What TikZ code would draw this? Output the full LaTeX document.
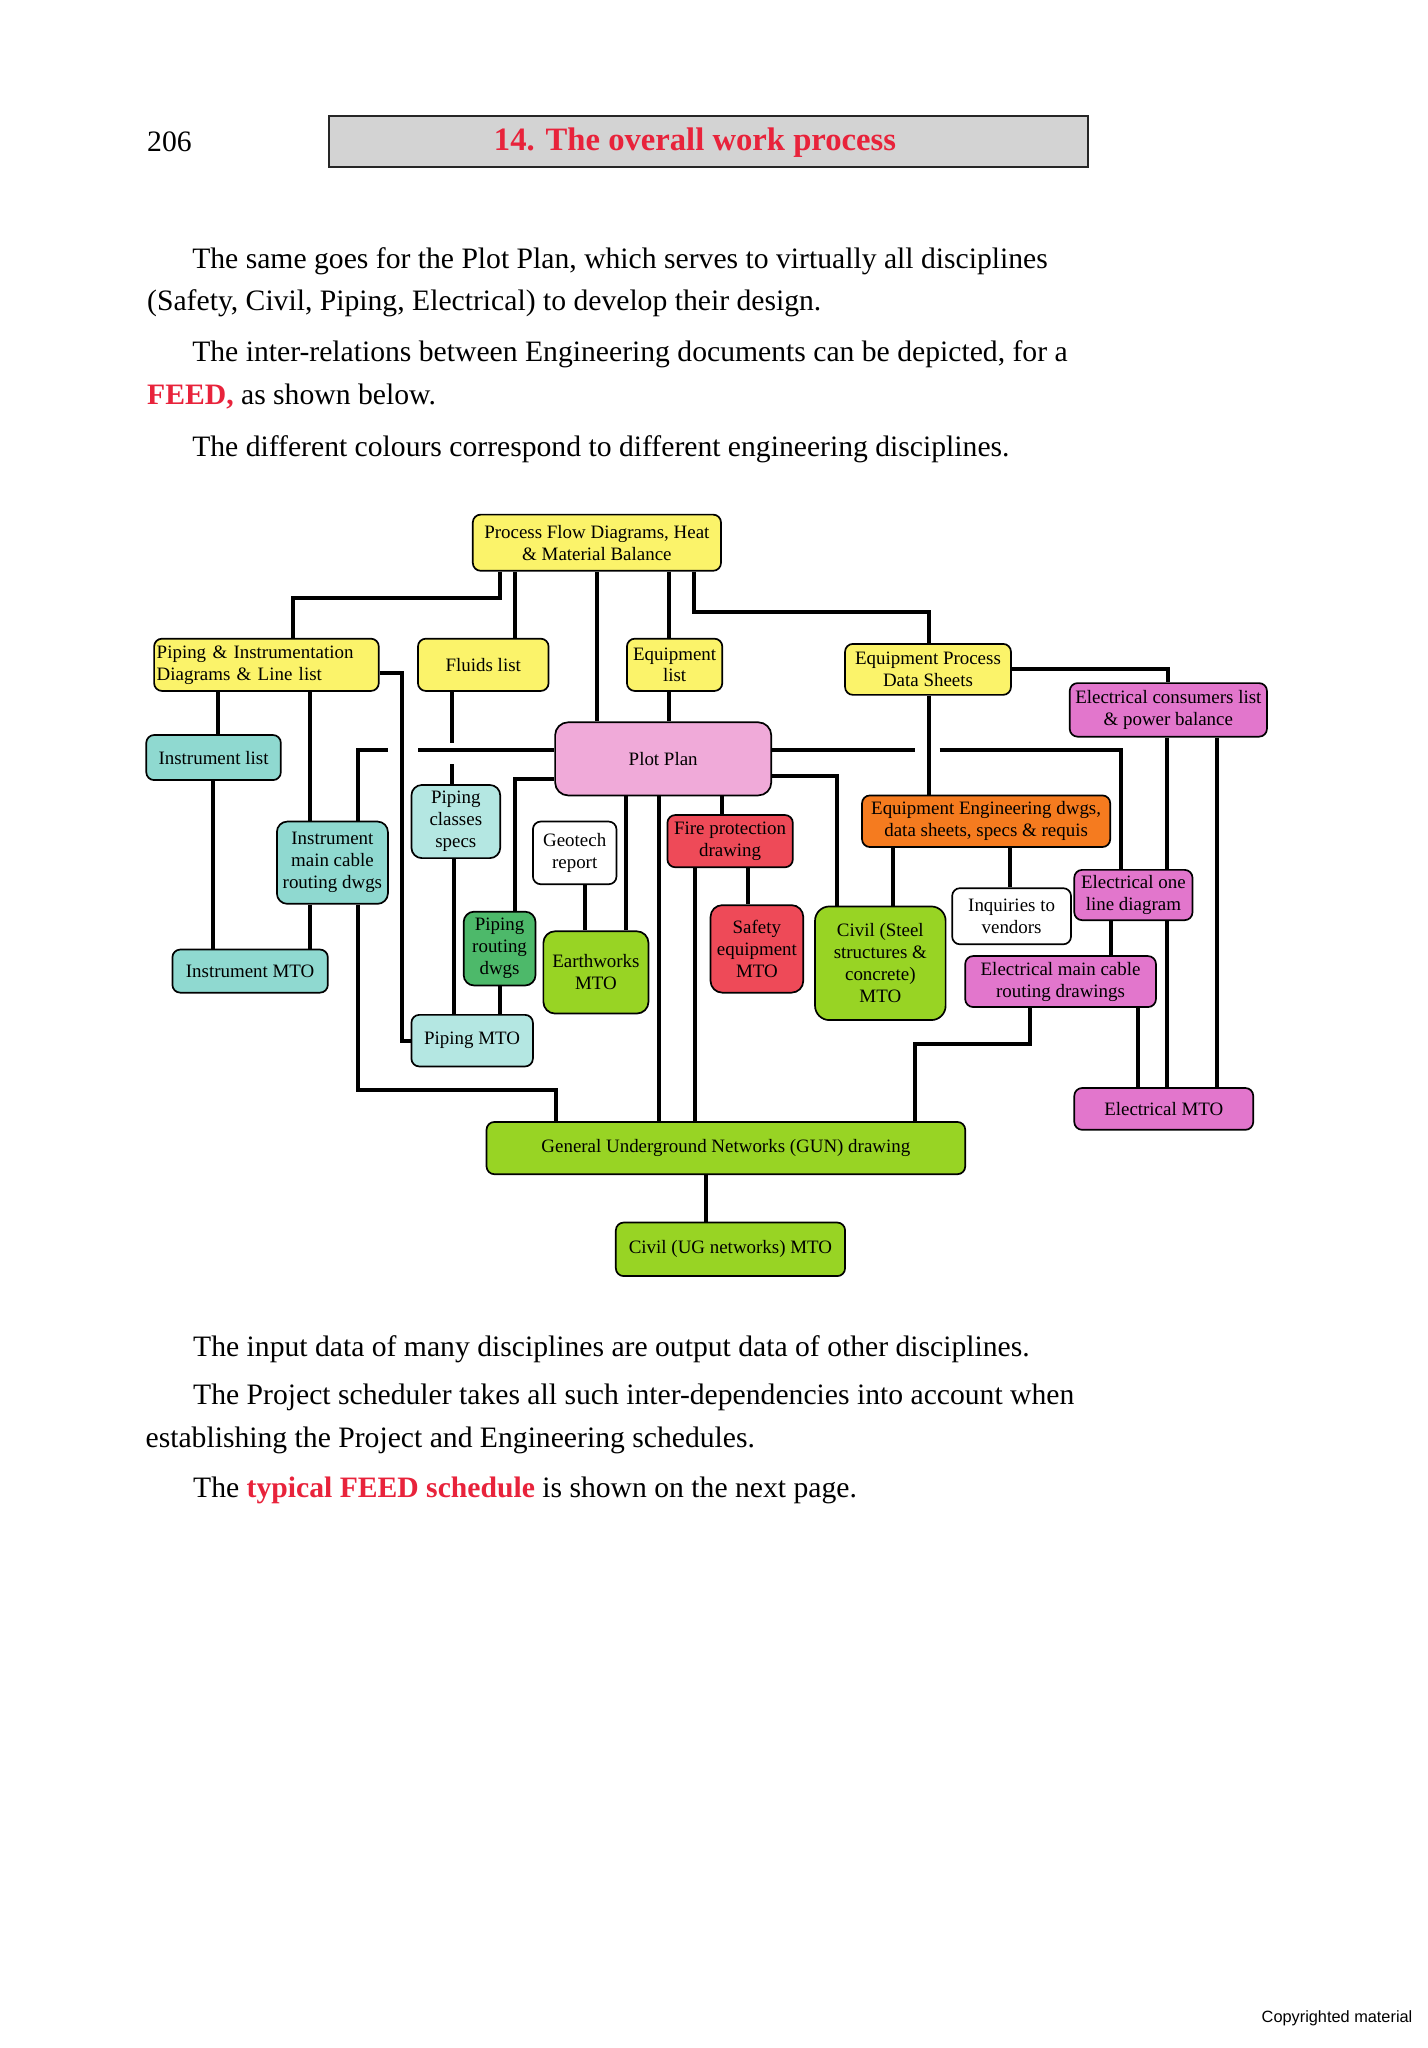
\documentclass[tikz,border=0pt]{standalone}
\usepackage{fontspec}
\setmainfont{Liberation Serif}
\newfontfamily\copyfont{Liberation Sans}
\usepackage{xcolor}
\usepackage{tikz}
\usetikzlibrary{calc}
\definecolor{pfdyellow}{HTML}{FBF36A}
\definecolor{instcyan}{HTML}{8FD9D0}
\definecolor{pipecyan}{HTML}{B4E7E2}
\definecolor{plotpink}{HTML}{F0AAD9}
\definecolor{firered}{HTML}{EE4A58}
\definecolor{eqorange}{HTML}{F57B1F}
\definecolor{civgreen}{HTML}{98D424}
\definecolor{pipegreen}{HTML}{4DB96A}
\definecolor{elecpink}{HTML}{E276CC}
\definecolor{headgray}{HTML}{D3D3D3}
\definecolor{feedred}{HTML}{E8233B}

\begin{document}
\begin{tikzpicture}[x=1pt,y=-1pt,
  box/.style={draw,fill=#1,rounded corners=6pt,line width=1.3pt,inner sep=1pt,align=center,font=\fontsize{14.5}{16.8}\selectfont},
  link/.style={line width=3pt},
  para/.style={anchor=base west,inner sep=0pt,font=\fontsize{22.7}{27}\selectfont}]
\useasboundingbox (0,0) rectangle (1092.6,1568);

% page head
\node[para] (page) at (112.5,116.2) {206};
\node[draw=black!85,fill=headgray,line width=1.2pt,minimum width=581pt,minimum height=39pt] (head) at (542.3,108.2) {};
\node[anchor=base west,inner sep=0pt,text=feedred,font=\fontsize{25}{30}\selectfont\bfseries] (title) at (378,115) {14. The overall work process};

% text above
\node[para] (p1) at (147,205.5) {The same goes for the Plot Plan, which serves to virtually all disciplines};
\node[para] (p2) at (112.5,237.4) {(Safety, Civil, Piping, Electrical) to develop their design.};
\node[para] (p3) at (147,276.5) {The inter-relations between Engineering documents can be depicted, for a};
\node[para] (p4) at (112.5,309.4) {{\bfseries\color{feedred}FEED,} as shown below.};
\node[para] (p5) at (147,349.3) {The different colours correspond to different engineering disciplines.};

% boxes
\node[box=pfdyellow,minimum width=190pt,minimum height=43pt] (pfd) at (457,415.5) {Process Flow Diagrams, Heat\\\& Material Balance};
\node[box=pfdyellow,minimum width=172pt,minimum height=40pt,align=left,text width=168pt] (pid) at (204,509) {Piping \& Instrumentation\\Diagrams \& Line list};
\node[box=pfdyellow,minimum width=100pt,minimum height=40pt] (fluids) at (370,509) {Fluids list};
\node[box=pfdyellow,minimum width=73pt,minimum height=40pt] (eqlist) at (516.5,509) {Equipment\\list};
\node[box=pfdyellow,minimum width=127pt,minimum height=39pt] (epds) at (710.5,512.5) {Equipment Process\\Data Sheets};
\node[box=elecpink,minimum width=151pt,minimum height=41pt] (ecl) at (894.5,543.5) {Electrical consumers list\\\& power balance};
\node[box=instcyan,minimum width=103pt,minimum height=34.5pt] (instlist) at (163.5,580) {Instrument list};
\node[box=plotpink,rounded corners=10pt,minimum width=165.5pt,minimum height=56pt] (plot) at (507.75,581) {Plot Plan};
\node[box=pipecyan,rounded corners=8pt,minimum width=68pt,minimum height=56pt] (pcs) at (349,629) {Piping\\classes\\specs};
\node[box=instcyan,rounded corners=8pt,minimum width=85pt,minimum height=63pt] (imcr) at (254.5,660.5) {Instrument\\main cable\\routing dwgs};
\node[box=white,minimum width=64pt,minimum height=48pt] (geo) at (440,653) {Geotech\\report};
\node[box=firered,minimum width=96pt,minimum height=40pt] (fire) at (559,644) {Fire protection\\drawing};
\node[box=eqorange,minimum width=190pt,minimum height=39.5pt] (eed) at (755,628.75) {Equipment Engineering dwgs,\\data sheets, specs \& requis};
\node[box=white,minimum width=91pt,minimum height=43pt] (inq) at (774.5,701.5) {Inquiries to\\vendors};
\node[box=elecpink,minimum width=90.5pt,minimum height=38.5pt] (eold) at (867.75,685.25) {Electrical one\\line diagram};
\node[box=pipegreen,rounded corners=8pt,minimum width=55pt,minimum height=56.5pt] (prd) at (382.5,726.25) {Piping\\routing\\dwgs};
\node[box=civgreen,rounded corners=9pt,minimum width=80.5pt,minimum height=63pt] (earth) at (456.25,744.5) {Earthworks\\MTO};
\node[box=firered,rounded corners=9pt,minimum width=71pt,minimum height=67pt] (safety) at (579.5,726.5) {Safety\\equipment\\MTO};
\node[box=civgreen,rounded corners=11pt,minimum width=100pt,minimum height=87pt] (civil) at (674,737.5) {Civil (Steel\\structures \&\\concrete)\\MTO};
\node[box=elecpink,minimum width=146pt,minimum height=39pt] (emcr) at (812,751.5) {Electrical main cable\\routing drawings};
\node[box=instcyan,minimum width=119pt,minimum height=33pt] (instmto) at (191.5,743.5) {Instrument MTO};
\node[box=pipecyan,minimum width=93pt,minimum height=39.5pt] (pipmto) at (361.5,796.75) {Piping MTO};
\node[box=elecpink,minimum width=137pt,minimum height=32pt] (emto) at (891,849) {Electrical MTO};
\node[box=civgreen,minimum width=366.5pt,minimum height=40pt] (gun) at (555.75,879) {General Underground Networks (GUN) drawing};
\node[box=civgreen,minimum width=175.5pt,minimum height=41pt] (ugmto) at (559.25,956.5) {Civil (UG networks) MTO};

% links from the PFD
\draw[link] (pfd.south -| 383,0) |- (224,457.5) -- (pid.north -| 224,0);
\draw[link] (pfd.south -| 394,0) -- (fluids.north -| 394,0);
\draw[link] (pfd.south) -- (plot.north -| pfd.south);
\draw[link] (pfd.south -| 512,0) -- (eqlist.north -| 512,0);
\draw[link] (pfd.south -| 531,0) |- (711,468.5) -- (epds.north -| 711,0);
\draw[link] (epds.east) -| (ecl.north);
\draw[link] (eqlist.south -| 512,0) -- (plot.north -| 512,0);
% fluids line, broken where it crosses
\draw[link] (fluids.south -| 346,0) -- (346,569);
\draw[link] (346,585) -- (pcs.north -| 346,0);
% P&ID
\draw[link] (pid.south -| 167,0) -- (instlist.north -| 167,0);
\draw[link] (pid.south -| 237,0) -- (imcr.north -| 237,0);
\draw[link] (pid.east |- 0,515) -| (pipmto.west -| 308,0) -- (pipmto.west);
\draw[link] (instlist.south -| 163.4,0) -- (instmto.north -| 163.4,0);
\draw[link] (imcr.south -| 237,0) -- (instmto.north -| 237,0);
\draw[link] (imcr.south -| 274,0) |- (425.7,834.5) -- (gun.north -| 425.7,0);
% plot plan, left
\draw[link] (plot.west |- 0,574) -- (319.8,574);
\draw[link] (296.7,574) -| (imcr.north -| 274,0);
\draw[link] (plot.west |- 0,596.7) -| (prd.north -| 394.5,0);
\draw[link] (pcs.south -| 347.5,0) -- (pipmto.north -| 347.5,0);
\draw[link] (prd.south) -- (pipmto.north -| prd.south);
% plot plan, down
\draw[link] (plot.south -| 479,0) -- (earth.north -| 479,0);
\draw[link] (geo.south -| 448,0) -- (earth.north -| 448,0);
\draw[link] (plot.south -| 504.5,0) -- (gun.north -| 504.5,0);
\draw[link] (plot.south -| 553,0) -- (fire.north -| 553,0);
\draw[link] (fire.south -| 532,0) -- (gun.north -| 532,0);
\draw[link] (fire.south -| 573,0) -- (safety.north -| 573,0);
% plot plan, right
\draw[link] (plot.east |- 0,574) -- (700.3,574);
\draw[link] (719.4,574) -| (eold.north -| 858.5,0);
\draw[link] (plot.east |- 0,594.4) -| (civil.north -| 640.7,0);
% equipment
\draw[link] (epds.south -| 711,0) -- (eed.north -| 711,0);
\draw[link] (eed.south -| 684,0) -- (civil.north -| 684,0);
\draw[link] (eed.south -| 773.6,0) -- (inq.north -| 773.6,0);
% electrical
\draw[link] (ecl.south -| 893.7,0) -- (eold.north -| 893.7,0);
\draw[link] (eold.south -| 893.7,0) -- (emto.north -| 893.7,0);
\draw[link] (ecl.south -| 931.6,0) -- (emto.north -| 931.6,0);
\draw[link] (eold.south -| 850.7,0) -- (emcr.north -| 850.7,0);
\draw[link] (emcr.south -| 871,0) -- (emto.north -| 871,0);
\draw[link] (emcr.south -| 788.4,0) |- (700.8,799.1) -- (gun.north -| 700.8,0);
\draw[link] (gun.south -| 540.4,0) -- (ugmto.north -| 540.4,0);

% text below
\node[para] (q1) at (147.7,1038.6) {The input data of many disciplines are output data of other disciplines.};
\node[para] (q2) at (147.7,1075.6) {The Project scheduler takes all such inter-dependencies into account when};
\node[para] (q3) at (111.3,1108) {establishing the Project and Engineering schedules.};
\node[para] (q4) at (147.7,1146.4) {The {\bfseries\color{feedred}typical FEED schedule} is shown on the next page.};
\node[anchor=base west,inner sep=0pt,font=\copyfont\fontsize{12.5}{15}\selectfont] (copy) at (965.8,1548.5) {Copyrighted material};
\end{tikzpicture}
\end{document}
